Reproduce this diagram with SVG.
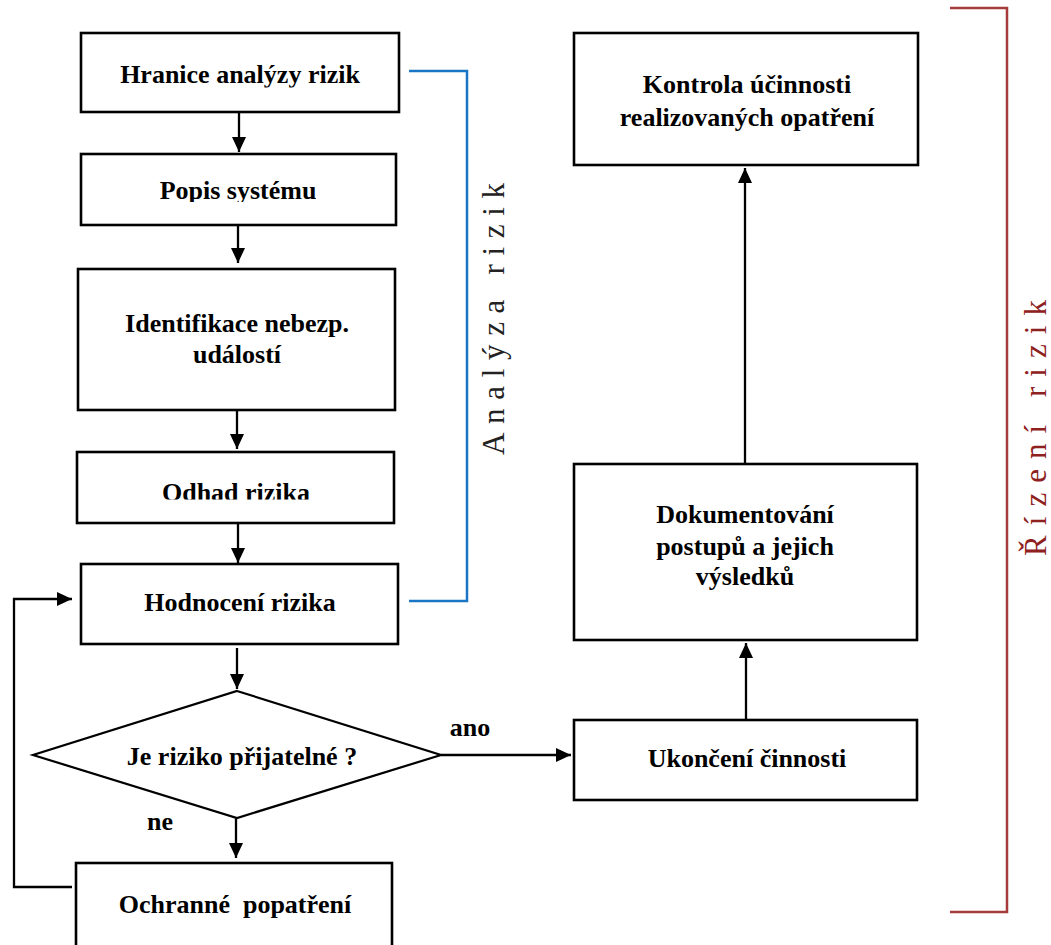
<svg xmlns="http://www.w3.org/2000/svg" width="1051" height="945" viewBox="0 0 1051 945">
  <style>
    .box { fill: #ffffff; stroke: #000000; stroke-width: 2.6; }
    .lbl { font-family: "Liberation Serif", "Times New Roman", serif; font-weight: bold; font-size: 26px; fill: #000000; text-anchor: middle; }
    .side { font-family: "Liberation Serif", "Times New Roman", serif; font-size: 31px; text-anchor: middle; }
    .conn { fill: none; stroke: #000000; stroke-width: 2.3; }
  </style>
  <defs>
    <marker id="ah" markerUnits="userSpaceOnUse" markerWidth="16" markerHeight="15" refX="15" refY="7" orient="auto">
      <path d="M0,0 L15,7 L0,14 z" fill="#000000"/>
    </marker>
    <clipPath id="clipHranice"><rect x="0" y="0" width="1051" height="87.5"/></clipPath>
    <clipPath id="clipPopis"><rect x="0" y="150" width="1051" height="52"/></clipPath>
    <clipPath id="clipOdhad"><rect x="0" y="450" width="1051" height="49.5"/></clipPath>
  </defs>
  <rect width="1051" height="945" fill="#ffffff"/>

  <g id="bracket-analyza">
    <polyline points="409,71 467,71 467,601 409,601" fill="none" stroke="#1b75c5" stroke-width="2.5"/>
    <text class="side" fill="#222222" transform="translate(504,319) rotate(-90)" textLength="272" lengthAdjust="spacing">Analýza rizik</text>
  </g>

  <g id="bracket-rizeni">
    <polyline points="950,8 1007,8 1007,912 950,912" fill="none" stroke="#a53b3b" stroke-width="2.5"/>
    <text class="side" fill="#8e2020" transform="translate(1046,428) rotate(-90)" textLength="256" lengthAdjust="spacing">Řízení rizik</text>
  </g>

  <g id="n-hranice">
    <rect class="box" x="81" y="33" width="318" height="79"/>
    <text class="lbl" x="240" y="83" clip-path="url(#clipHranice)">Hranice analýzy rizik</text>
  </g>
  <g id="n-popis">
    <rect class="box" x="81" y="154" width="315" height="71"/>
    <text class="lbl" x="238" y="199" clip-path="url(#clipPopis)">Popis systému</text>
  </g>
  <g id="n-identifikace">
    <rect class="box" x="78" y="269" width="317" height="141"/>
    <text class="lbl" x="237" y="332">Identifikace nebezp.</text>
    <text class="lbl" x="237" y="363">událostí</text>
  </g>
  <g id="n-odhad">
    <rect class="box" x="77" y="452" width="317" height="71"/>
    <text class="lbl" x="236" y="501" clip-path="url(#clipOdhad)">Odhad rizika</text>
  </g>
  <g id="n-hodnoceni">
    <rect class="box" x="81" y="564" width="317" height="80"/>
    <text class="lbl" x="240" y="611">Hodnocení rizika</text>
  </g>
  <g id="n-rozhodnuti">
    <polygon points="237,691 441,755 237,818 33,755" fill="#ffffff" stroke="#000000" stroke-width="2.2"/>
    <text class="lbl" x="242" y="765">Je riziko přijatelné ?</text>
  </g>
  <g id="n-ochranne">
    <rect class="box" x="76" y="863" width="316" height="100"/>
    <text class="lbl" x="235" y="913" xml:space="preserve">Ochranné  popatření</text>
  </g>
  <g id="n-ukonceni">
    <rect class="box" x="574" y="720" width="343" height="80"/>
    <text class="lbl" x="747" y="767">Ukončení činnosti</text>
  </g>
  <g id="n-dokumentovani">
    <rect class="box" x="574" y="464" width="343" height="176"/>
    <text class="lbl" x="745" y="523">Dokumentování</text>
    <text class="lbl" x="745" y="555">postupů a jejich</text>
    <text class="lbl" x="745" y="585">výsledků</text>
  </g>
  <g id="n-kontrola">
    <rect class="box" x="574" y="33" width="344" height="132"/>
    <text class="lbl" x="747" y="93">Kontrola účinnosti</text>
    <text class="lbl" x="747" y="126">realizovaných opatření</text>
  </g>

  <g id="connectors">
    <line class="conn" x1="239" y1="112" x2="239" y2="152" marker-end="url(#ah)"/>
    <line class="conn" x1="238" y1="225" x2="238" y2="263" marker-end="url(#ah)"/>
    <line class="conn" x1="237" y1="410" x2="237" y2="449" marker-end="url(#ah)"/>
    <line class="conn" x1="238" y1="523" x2="238" y2="563" marker-end="url(#ah)"/>
    <line class="conn" x1="237" y1="648" x2="237" y2="689" marker-end="url(#ah)"/>
    <line class="conn" x1="236" y1="818" x2="236" y2="858" marker-end="url(#ah)"/>
    <line class="conn" x1="441" y1="755" x2="571" y2="755" marker-end="url(#ah)"/>
    <line class="conn" x1="746" y1="720" x2="746" y2="643" marker-end="url(#ah)"/>
    <line class="conn" x1="745" y1="464" x2="745" y2="168" marker-end="url(#ah)"/>
    <path class="conn" d="M72,887 H14 V599 H72" marker-end="url(#ah)"/>
    <text class="lbl" x="470" y="736">ano</text>
    <text class="lbl" x="160" y="830">ne</text>
  </g>
</svg>
